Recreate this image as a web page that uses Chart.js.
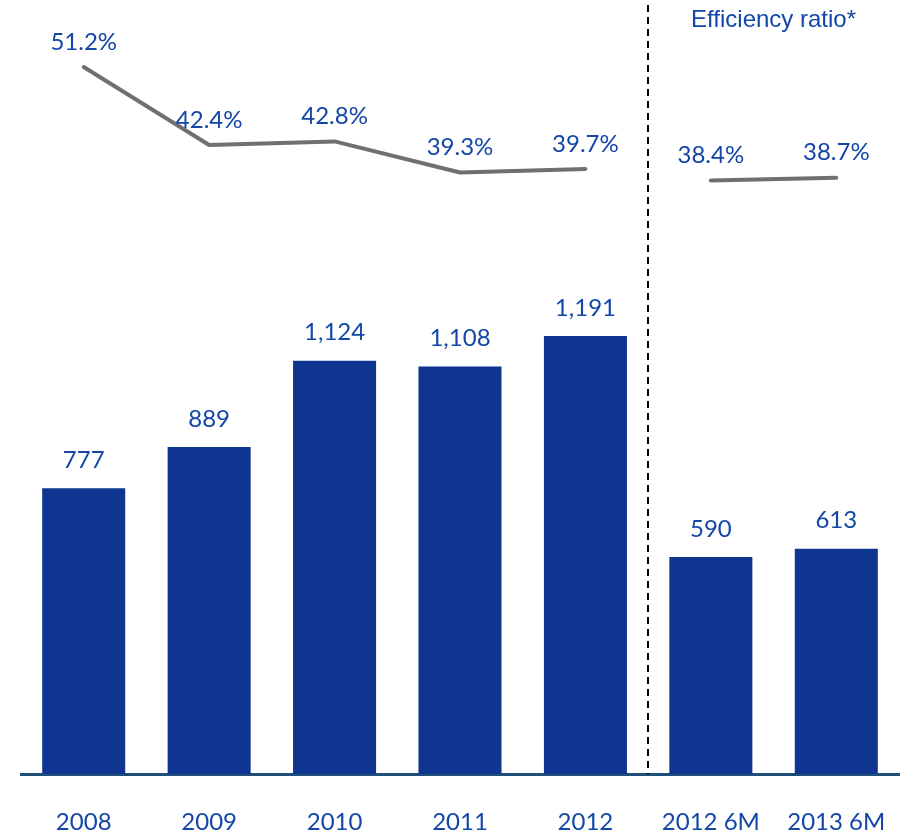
<!DOCTYPE html>
<html>
<head>
<meta charset="utf-8">
<script src="https://cdn.jsdelivr.net/npm/chart.js@4/dist/chart.umd.min.js"></script>
<style>
  html, body { margin: 0; padding: 0; background: #ffffff; }
  #wrap { width: 909px; height: 837px; }
</style>
</head>
<body>
<div id="wrap"><canvas id="c" width="909" height="837"></canvas></div>
<script>
const categories = ['2008', '2009', '2010', '2011', '2012', '2012 6M', '2013 6M'];
const netIncome = [777, 889, 1124, 1108, 1191, 590, 613];
const efficiencyRatio = [51.2, 42.4, 42.8, 39.3, 39.7, 38.4, 38.7];
const annualCount = 5; // first five categories are full years
const ratioTitle = 'Efficiency ratio*';

const BAR_COLOR = '#0E3590';
const TEXT_COLOR = '#1346A8';
const LINE_COLOR = '#707070';
const AXIS_COLOR = '#1F4E79';

const annualRatio = efficiencyRatio.map((v, i) => i < annualCount ? v : null);
const halfRatio = efficiencyRatio.map((v, i) => i >= annualCount ? v : null);

const labelPlugin = {
  id: 'labels',
  afterDatasetsDraw(chart) {
    const ctx = chart.ctx;
    const area = chart.chartArea;
    const x = chart.scales.x;
    ctx.save();
    // dashed separator
    const sx = (x.getPixelForValue(annualCount - 1) + x.getPixelForValue(annualCount)) / 2;
    ctx.strokeStyle = '#000000';
    ctx.lineWidth = 2;
    ctx.setLineDash([7, 5]);
    ctx.beginPath();
    ctx.moveTo(Math.round(sx), area.top - 5);
    ctx.lineTo(Math.round(sx), area.bottom);
    ctx.stroke();
    ctx.setLineDash([]);

    ctx.fillStyle = TEXT_COLOR;
    ctx.textAlign = 'center';
    ctx.textBaseline = 'middle';
    // bar labels
    ctx.font = '24px Lato';
    chart.getDatasetMeta(0).data.forEach((el, i) => {
      ctx.fillText(netIncome[i].toLocaleString('en-US'), el.x, el.y - 28);
    });
    // line labels
    [1, 2].forEach(di => {
      const ds = chart.data.datasets[di];
      chart.getDatasetMeta(di).data.forEach((el, i) => {
        const v = ds.data[i];
        if (v === null || v === undefined) return;
        ctx.fillText(v.toFixed(1) + '%', el.x, el.y - 25);
      });
    });
    // title of the ratio
    ctx.font = '24px "Liberation Sans"';
    ctx.fillText(ratioTitle, (sx + area.right) / 2, area.top + 10);
    ctx.restore();
  }
};

new Chart(document.getElementById('c'), {
  type: 'bar',
  data: {
    labels: categories,
    datasets: [
      {
        type: 'bar',
        data: netIncome,
        backgroundColor: BAR_COLOR,
        borderWidth: 0,
        barPercentage: 0.662,
        categoryPercentage: 1.0,
        yAxisID: 'y',
        order: 2
      },
      {
        type: 'line',
        data: annualRatio,
        borderColor: LINE_COLOR,
        borderWidth: 4,
        borderCapStyle: 'round',
        borderJoinStyle: 'round',
        pointRadius: 0,
        tension: 0,
        spanGaps: false,
        yAxisID: 'y2',
        order: 1
      },
      {
        type: 'line',
        data: halfRatio,
        borderColor: LINE_COLOR,
        borderWidth: 4,
        borderCapStyle: 'round',
        borderJoinStyle: 'round',
        pointRadius: 0,
        tension: 0,
        spanGaps: false,
        yAxisID: 'y2',
        order: 1
      }
    ]
  },
  options: {
    responsive: false,
    animation: false,
    layout: { padding: { top: 10, bottom: -34, left: 21, right: 10 } },
    plugins: {
      legend: { display: false },
      tooltip: { enabled: false },
      title: { display: false }
    },
    scales: {
      x: {
        grid: { display: false, drawTicks: false },
        border: { display: true, color: AXIS_COLOR, width: 3 },
        ticks: {
          color: TEXT_COLOR,
          font: { family: 'Lato', size: 24 },
          padding: 34,
          maxRotation: 0,
          autoSkip: false
        },
        afterFit(scale) {
          scale.paddingLeft = 0;
          scale.paddingRight = 0;
        }
      },
      y: {
        display: false,
        min: 0,
        max: 2077
      },
      y2: {
        display: false,
        min: -28.6,
        max: 57.63
      }
    }
  },
  plugins: [labelPlugin]
});
</script>
</body>
</html>
